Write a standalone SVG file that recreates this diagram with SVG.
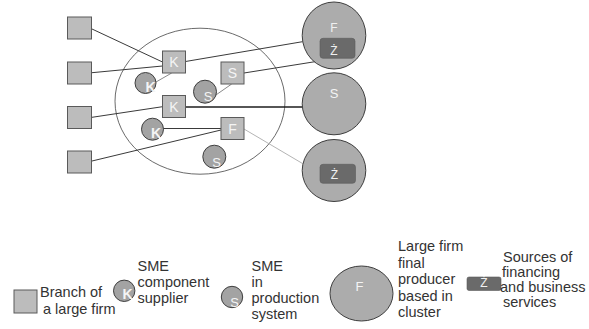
<svg xmlns="http://www.w3.org/2000/svg" width="589" height="329" viewBox="0 0 589 329">
<style>
  text { font-family: "Liberation Sans", Arial, sans-serif; }
  .sq { fill: #bcbcbc; stroke: #5a5a5a; stroke-width: 1; }
  .sc { fill: #a3a3a3; stroke: #3e3e3e; stroke-width: 1; }
  .bc { fill: #acacac; stroke: #3e3e3e; stroke-width: 1; }
  .zb { fill: #6a6a6a; stroke: #5a5a5a; stroke-width: 0.6; }
  .wt { fill: #f4f4f4; font-size: 14px; text-anchor: middle; }
  .wk { fill: #f4f4f4; font-size: 14px; font-weight: bold; text-anchor: middle; }
  .ws { fill: #f4f4f4; font-size: 13px; text-anchor: middle; }
  .wz { fill: #f0f0f0; font-size: 12px; text-anchor: middle; }
  .lg { fill: #333333; font-size: 14.5px; }
  .ln { stroke: #3a3a3a; stroke-width: 1; fill: none; }
  .lt { stroke: #7a7a7a; stroke-width: 0.9; fill: none; }
  .lk { stroke: #1e1e1e; stroke-width: 1.3; fill: none; }
  .lgr { stroke: #b4b4b4; stroke-width: 1; fill: none; }
</style>

<g id="cluster">
  <ellipse cx="200" cy="101.2" rx="85" ry="73" fill="none" stroke="#444" stroke-width="0.8"/>
</g>

<g id="connectors">
  <line class="ln" x1="92" y1="29" x2="162.5" y2="62"/>
  <line class="ln" x1="92" y1="72.7" x2="162.5" y2="66"/>
  <line class="ln" x1="185.5" y1="61.5" x2="302.5" y2="41.7"/>
  <line class="ln" x1="244" y1="73" x2="315" y2="61.7"/>
  <line class="lt" x1="171.7" y1="73" x2="156" y2="82"/>
  <line class="lt" x1="231.7" y1="84" x2="213" y2="97"/>
  <line class="ln" x1="92" y1="117.3" x2="162.5" y2="106.7"/>
  <line class="lk" x1="185.5" y1="107" x2="302.5" y2="107"/>
  <line class="ln" x1="163.5" y1="128.5" x2="221" y2="128.5"/>
  <line class="ln" x1="92" y1="161" x2="221" y2="130"/>
  <line class="lgr" x1="244" y1="129" x2="302.5" y2="163.5"/>
</g>

<g id="branch1"><rect class="sq" x="67.5" y="17" width="24" height="22"/></g>
<g id="branch2"><rect class="sq" x="67.5" y="62" width="24" height="22"/></g>
<g id="branch3"><rect class="sq" x="67.5" y="106.5" width="24" height="22"/></g>
<g id="branch4"><rect class="sq" x="67.5" y="151" width="24" height="22"/></g>

<g id="sq-K1"><rect class="sq" x="162.5" y="51" width="23" height="22"/><text class="wt" x="174" y="67">K</text></g>
<g id="sq-S"><rect class="sq" x="221" y="62" width="23" height="22"/><text class="wt" x="232.5" y="78">S</text></g>
<g id="sq-K2"><rect class="sq" x="162.5" y="95.5" width="23" height="22"/><text class="wt" x="174" y="111.5">K</text></g>
<g id="sq-F"><rect class="sq" x="221" y="117.5" width="23" height="22"/><text class="wt" x="232.5" y="133.5">F</text></g>

<g id="c-K1"><circle class="sc" cx="145.5" cy="83" r="10.5"/><text class="wk" x="150.5" y="92">K</text></g>
<g id="c-S1"><circle class="sc" cx="205" cy="91.7" r="11.5"/><text class="ws" x="208" y="101">S</text></g>
<g id="c-K2"><circle class="sc" cx="152.5" cy="129.2" r="11"/><text class="wk" x="156" y="137.5">K</text></g>
<g id="c-S2"><circle class="sc" cx="214.3" cy="156.7" r="11.5"/><text class="ws" x="216.7" y="166.5">S</text></g>

<g id="big-F"><ellipse class="bc" cx="334" cy="35.5" rx="31.8" ry="33.5"/><text class="wz" x="334" y="31.7">F</text><rect class="zb" x="320" y="38.3" width="35" height="20" rx="3"/><text class="wz" x="334" y="55">Ż</text></g>
<g id="big-S"><ellipse class="bc" cx="334" cy="103.8" rx="31.8" ry="31"/><text class="ws" x="334" y="98.3">S</text></g>
<g id="big-Z"><ellipse class="bc" cx="334" cy="170.5" rx="31.8" ry="31"/><rect class="zb" x="320" y="164.3" width="35.5" height="19" rx="3"/><text class="wz" x="334.5" y="179.3">Ż</text></g>

<g id="legend-branch">
  <rect class="sq" x="14" y="290" width="23" height="23"/>
  <text class="lg" x="40" y="297">Branch of</text>
  <text class="lg" x="43" y="313.5">a large firm</text>
</g>
<g id="legend-K">
  <circle class="sc" cx="124.2" cy="290.8" r="10.7"/>
  <text class="wk" x="127.5" y="298.5">K</text>
  <text class="lg" x="137.5" y="271">SME</text>
  <text class="lg" x="137.5" y="287">component</text>
  <text class="lg" x="137.5" y="303">supplier</text>
</g>
<g id="legend-S">
  <circle class="sc" cx="232" cy="297" r="10.7"/>
  <text class="ws" x="234.5" y="306.5">S</text>
  <text class="lg" x="251.5" y="271">SME</text>
  <text class="lg" x="251.5" y="287">in</text>
  <text class="lg" x="251.5" y="303">production</text>
  <text class="lg" x="251.5" y="319">system</text>
</g>
<g id="legend-F">
  <ellipse class="bc" cx="361.5" cy="293.5" rx="31.5" ry="27.5"/>
  <text class="ws" x="359.5" y="290.5">F</text>
  <text class="lg" x="398" y="251">Large firm</text>
  <text class="lg" x="398" y="267.5">final</text>
  <text class="lg" x="398" y="284">producer</text>
  <text class="lg" x="398" y="300.5">based in</text>
  <text class="lg" x="398" y="317">cluster</text>
</g>
<g id="legend-Z">
  <rect class="zb" x="467" y="277" width="34" height="13.5" rx="2"/>
  <text class="wz" x="484" y="287">Ż</text>
  <text class="lg" x="503" y="261.5">Sources of</text>
  <text class="lg" x="502" y="276.5">financing</text>
  <text class="lg" x="500" y="291.5">and business</text>
  <text class="lg" x="503" y="306.5">services</text>
</g>
</svg>
